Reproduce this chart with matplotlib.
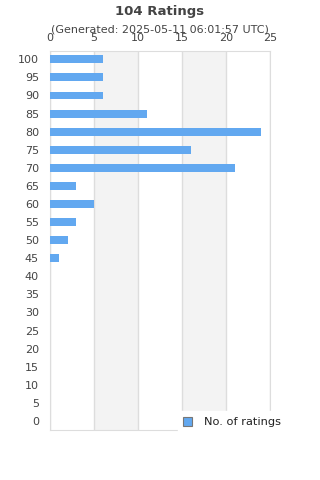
import matplotlib
matplotlib.use('Agg')
import matplotlib.pyplot as plt
from matplotlib.patches import Patch

ratings = [100, 95, 90, 85, 80, 75, 70, 65, 60, 55, 50, 45, 40, 35, 30, 25, 20, 15, 10, 5, 0]
counts = [6, 6, 6, 11, 24, 16, 21, 3, 5, 3, 2, 1, 0, 0, 0, 0, 0, 0, 0, 0, 0]
x_ticks = [0, 5, 10, 15, 20, 25]

title = '104 Ratings'
subtitle = '(Generated: 2025-05-11 06:01:57 UTC)'
bar_color = '#62a8f0'
text_color = '#444444'
grid_color = '#dddddd'


def main():
    fig = plt.figure(figsize=(3.2, 4.8), dpi=100)
    ax = fig.add_axes([50 / 320, 1 - 430 / 480, 220 / 320, 379 / 480])

    # alternating background bands
    for i in range(len(x_ticks) - 1):
        if i % 2 == 1:
            ax.axvspan(x_ticks[i], x_ticks[i + 1], color='#f3f3f3', zorder=0, lw=0)

    ax.barh(ratings, counts, height=2.2, color=bar_color, zorder=3)

    ax.set_xlim(0, 25)
    ax.set_ylim(-2.5, 102.3)
    ax.set_xticks(x_ticks)
    ax.set_yticks(ratings)
    ax.xaxis.tick_top()
    # tick labels sit on top of the subtitle, as in the original
    ax.tick_params(axis='x', length=0, pad=6, labelsize=8, colors=text_color)
    ax.tick_params(axis='y', length=0, pad=8, labelsize=8, colors=text_color)
    ax.grid(axis='x', color=grid_color, lw=1, zorder=1)
    for side in ['left', 'bottom', 'top', 'right']:
        ax.spines[side].set_color(grid_color)

    fig.text(0.5, 1 - 11 / 480, title, ha='center', va='center',
             fontsize=9.5, fontweight='bold', color=text_color)
    fig.text(0.5, 1 - 29 / 480, subtitle, ha='center', va='center',
             fontsize=8, color=text_color)

    handle = Patch(facecolor=bar_color, edgecolor='#777777', lw=0.8)
    leg = fig.legend([handle], ['No. of ratings'], loc='center',
                     bbox_to_anchor=(232 / 320, 1 - 422 / 480),
                     frameon=True, fontsize=8.2, handlelength=0.8, handleheight=0.8,
                     handletextpad=1.0, borderpad=0.5, labelcolor='#222222')
    leg.get_frame().set_edgecolor('white')
    leg.get_frame().set_facecolor('white')
    leg.get_frame().set_alpha(1)
    leg.get_frame().set_boxstyle('square', pad=0)

    fig.savefig('out.png', dpi=100)


if __name__ == '__main__':
    main()
